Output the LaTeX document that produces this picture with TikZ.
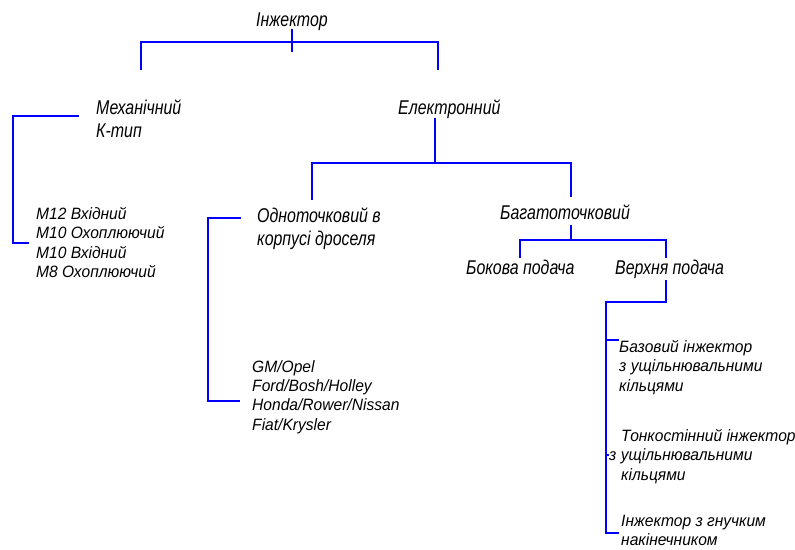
\documentclass[tikz,border=0pt]{standalone}
\usepackage{fontspec}
\newfontfamily\labfont[FakeStretch=0.8]{Liberation Sans}
\newfontfamily\listfont[FakeStretch=0.95]{Liberation Sans}

\begin{document}
\begin{tikzpicture}
            [x=0.03cm, y=-0.03cm,
             link/.style={draw=blue, line width=1.3pt},
             lab/.style={inner sep=0pt, anchor=north west, align=left,
                         font=\fontsize{17}{19.6}\selectfont\labfont\itshape},
             item/.style={inner sep=0pt, anchor=north west, align=left,
                          font=\fontsize{14}{16.5}\selectfont\listfont\itshape}]
            \useasboundingbox (0,0) rectangle (795,549);

            \node[lab] (inj) at (256,13) {Інжектор};
            \node[lab] (meh) at (96,100) {Механічний\\К-тип};
            \node[lab] (el) at (398,100) {Електронний};
            \node[item] (mlist) at (36,207) {M12 Вхідний\\M10 Охоплюючий\\M10 Вхідний\\M8 Охоплюючий};
            \node[lab] (odn) at (257,208) {Одноточковий в\\корпусі дроселя};
            \node[lab] (bag) at (500,205) {Багатоточковий};
            \node[lab] (bok) at (466,260) {Бокова подача};
            \node[lab] (verh) at (615,260) {Верхня подача};
            \node[item] (olist) at (252,360) {GM/Opel\\Ford/Bosh/Holley\\Honda/Rower/Nissan\\Fiat/Krysler};
            \node[item] (baz) at (619,340) {Базовий інжектор\\з ущільнювальними\\кільцями};
            \node[item] (ton) at (621,429) {Тонкостінний інжектор\\\hspace*{-0.36cm}з ущільнювальними\\кільцями};
            \node[item] (gnu) at (621,515) {Інжектор з гнучким\\накінечником};

            % junctions
            \coordinate (j1) at (292,42);
            \coordinate (mehTop) at (141,70);
            \coordinate (elTop) at (438,70);
            \coordinate (j2) at (435,163);
            \coordinate (odnTop) at (312,200);
            \coordinate (bagTop) at (571,197);
            \coordinate (j3) at (571,240);
            \coordinate (bokTop) at (520,258);
            \coordinate (verhTop) at (666,258);
            \coordinate (mTie) at (79,116);
            \coordinate (mEnd) at (29,243);
            \coordinate (oTie) at (241,218);
            \coordinate (oEnd) at (240,401);
            \coordinate (vTie) at (666,280);
            \coordinate (vEnd) at (619,533);

            \draw[link] (292,29) -- (292,52);
            \draw[link] (mehTop) |- (j1) -| (elTop);
            \draw[link] (435,118) -- (j2);
            \draw[link] (odnTop) |- (j2) -| (bagTop);
            \draw[link] (571,225) -- (j3);
            \draw[link] (bokTop) |- (j3) -| (verhTop);
            \draw[link] (mTie) -- (13,116) |- (mEnd);
            \draw[link] (oTie) -- (208,218) |- (oEnd);
            \draw[link] (vTie) |- (606,302) |- (vEnd);
            \draw[link] (606,340) -- (baz.north west);
            \draw[link] (606,455) -- (609,455);
        \end{tikzpicture}
\end{document}
